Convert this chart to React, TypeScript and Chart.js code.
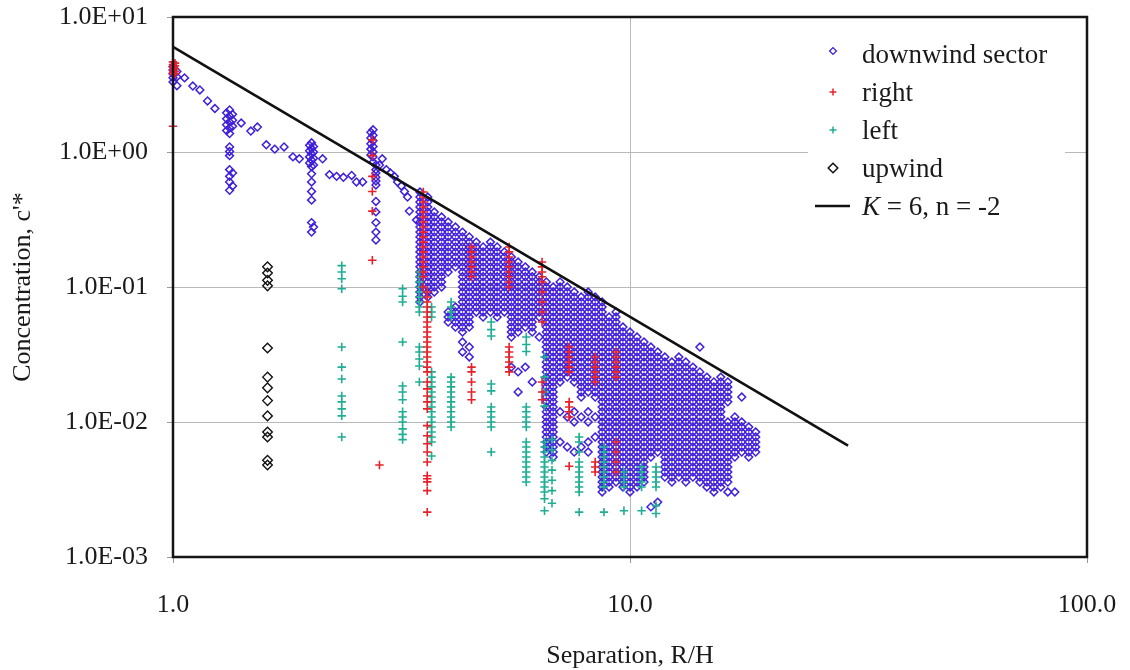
import React, { useEffect, useRef } from 'react';
import { Chart, registerables } from 'chart.js';

Chart.register(...registerables);

const FONT = "'Liberation Serif', 'Times New Roman', Times, serif";
const TEXT = '#1a1a1a';
const BLUE = '#4020DA';
const RED = '#E8202A';
const TEAL = '#1FAE94';
const BLACK = '#111111';

const xTicks = [1, 10, 100];
const xTickLabels = ['1.0', '10.0', '100.0'];
const yTicks = [0.001, 0.01, 0.1, 1, 10];
const yTickLabels = ['1.0E-03', '1.0E-02', '1.0E-01', '1.0E+00', '1.0E+01'];

const legendLabels = ['downwind sector', 'right', 'left', 'upwind', 'K = 6, n = -2'];

// downwind sector: column x positions and the c'* values read in each column
const downwindX = [
  1.0, 1.02, 1.06, 1.105, 1.145, 1.19, 1.235, 1.31, 1.33, 1.35, 1.41, 1.48, 1.53, 1.6, 1.67, 1.75, 1.83, 1.89,
  1.99, 2.01, 2.03, 2.125, 2.2, 2.28, 2.36, 2.46, 2.52, 2.6, 2.71, 2.74, 2.78, 2.83, 2.87, 2.93, 2.99, 3.05,
  3.1, 3.16, 3.21, 3.26, 3.29, 3.41,
  3.47, 3.61, 3.73, 3.87, 4.0, 4.15, 4.3, 4.45, 4.61, 4.77, 4.95, 5.12, 5.31, 5.5, 5.69, 5.9, 6.11, 6.33,
  6.56, 6.79, 7.03, 7.29, 7.55, 7.82, 8.1, 8.39, 8.69, 9.0, 9.32, 9.65, 10.0, 10.36, 10.73, 11.11, 11.5, 11.92,
  12.35, 12.79, 13.25, 13.73, 14.22, 14.73, 15.26, 15.8, 16.37, 16.96, 17.56, 18.19, 18.84,
];
const downwindC: number[][] = [
  [4.3, 4.05, 3.8, 3.55, 3.3],
  [3.95, 3.6, 3.1],
  [3.54], [3.08], [2.88], [2.39], [2.1],
  [1.95, 1.76, 1.59, 1.44],
  [2.05, 1.85, 1.67, 1.51, 1.37, 1.09, 1.01, 0.94, 0.74, 0.66, 0.6, 0.52],
  [1.9, 1.72, 1.55, 0.7, 0.56],
  [1.64], [1.43], [1.53], [1.13], [1.05], [1.09], [0.92], [0.89],
  [1.12, 1.02, 0.92, 0.83],
  [1.17, 1.06, 0.97, 0.87, 0.78, 0.69, 0.6, 0.51, 0.44, 0.3, 0.255],
  [1.1, 1.0, 0.9, 0.8, 0.278],
  [0.89], [0.68], [0.66], [0.65], [0.67], [0.6], [0.6],
  [1.4, 1.27, 1.15, 1.05, 0.95],
  [1.46, 1.33, 1.21, 1.1, 1.0, 0.92, 0.84],
  [0.8, 0.74, 0.7, 0.65, 0.61, 0.57, 0.43, 0.36, 0.3, 0.255, 0.223],
  [0.8], [0.89], [0.74], [0.7], [0.66], [0.6], [0.56], [0.51], [0.464], [0.365], [0.313],
  [0.505, 0.464, 0.426, 0.391, 0.359, 0.33, 0.303, 0.278, 0.255, 0.235, 0.215, 0.198, 0.182, 0.167, 0.153, 0.141, 0.129, 0.119, 0.109, 0.1, 0.0918, 0.0843, 0.0774],
  [0.464, 0.426, 0.391, 0.359, 0.33, 0.303, 0.278, 0.255, 0.235, 0.215, 0.198, 0.182, 0.167, 0.153, 0.141, 0.129, 0.119, 0.109, 0.1, 0.0918, 0.0843],
  [0.359, 0.33, 0.303, 0.278, 0.255, 0.235, 0.215, 0.198, 0.182, 0.167, 0.153, 0.141, 0.129, 0.119, 0.109, 0.1, 0.0918],
  [0.33, 0.303, 0.278, 0.255, 0.235, 0.215, 0.198, 0.182, 0.167, 0.153, 0.141, 0.129, 0.119, 0.109, 0.1],
  [0.303, 0.278, 0.255, 0.235, 0.215, 0.198, 0.182, 0.167, 0.153, 0.141, 0.129, 0.0653, 0.0599, 0.055],
  [0.278, 0.255, 0.235, 0.215, 0.198, 0.182, 0.167, 0.153, 0.141, 0.0711, 0.0653, 0.0599, 0.055, 0.0505],
  [0.255, 0.235, 0.215, 0.198, 0.182, 0.167, 0.153, 0.141, 0.129, 0.119, 0.109, 0.1, 0.0918, 0.0843, 0.0774, 0.0711, 0.0653, 0.0599, 0.055, 0.0505, 0.0464, 0.0391, 0.033],
  [0.235, 0.215, 0.198, 0.182, 0.167, 0.153, 0.141, 0.129, 0.119, 0.109, 0.1, 0.0918, 0.0843, 0.0774, 0.0711, 0.0653, 0.0599, 0.055, 0.0505, 0.0359, 0.0303],
  [0.215, 0.198, 0.182, 0.167, 0.153, 0.141, 0.129, 0.119, 0.109, 0.1, 0.0918, 0.0843, 0.0774, 0.0711, 0.0653],
  [0.198, 0.182, 0.167, 0.153, 0.141, 0.129, 0.119, 0.109, 0.1, 0.0918, 0.0843, 0.0774, 0.0711, 0.0653, 0.0599],
  [0.215, 0.198, 0.182, 0.167, 0.153, 0.141, 0.129, 0.119, 0.109, 0.1, 0.0918, 0.0843, 0.0774, 0.0711, 0.0653],
  [0.198, 0.182, 0.167, 0.153, 0.141, 0.129, 0.119, 0.109, 0.1, 0.0918, 0.0843, 0.0774, 0.0711, 0.0653, 0.0599],
  [0.182, 0.167, 0.153, 0.141, 0.129, 0.119, 0.109, 0.1, 0.0918, 0.0843, 0.0774, 0.0711, 0.0653],
  [0.167, 0.153, 0.141, 0.129, 0.119, 0.109, 0.1, 0.0918, 0.0843, 0.0774, 0.0711, 0.0653, 0.0599, 0.055, 0.0505, 0.0464, 0.0426, 0.0255],
  [0.153, 0.141, 0.129, 0.119, 0.109, 0.1, 0.0918, 0.0843, 0.0774, 0.0711, 0.0653, 0.0599, 0.055, 0.0505, 0.0464, 0.0235, 0.0167],
  [0.141, 0.129, 0.119, 0.109, 0.1, 0.0918, 0.0843, 0.0774, 0.0711, 0.0653, 0.0599, 0.055, 0.0505, 0.0255],
  [0.129, 0.119, 0.109, 0.1, 0.0918, 0.0843, 0.0774, 0.0711, 0.0653, 0.0599, 0.055, 0.0505, 0.0464, 0.0198],
  [0.119, 0.109, 0.1, 0.0918, 0.0843, 0.0774, 0.0711, 0.0653, 0.0599, 0.0426],
  [0.109, 0.1, 0.0918, 0.0843, 0.0774, 0.0711, 0.0653, 0.0599, 0.055, 0.0505, 0.0464, 0.0426, 0.0391, 0.0359, 0.033, 0.0303, 0.0278, 0.0255, 0.0235, 0.0215, 0.0198, 0.0182, 0.0167, 0.0153, 0.0141, 0.0129, 0.0119, 0.0109, 0.01, 0.00918, 0.00843, 0.00774, 0.00711, 0.00653, 0.00599],
  [0.1, 0.0918, 0.0843, 0.0774, 0.0711, 0.0653, 0.0599, 0.055, 0.0505, 0.0464, 0.0426, 0.0391, 0.0359, 0.033, 0.0303, 0.0278, 0.0255, 0.0235, 0.0215, 0.0198, 0.0182, 0.0167, 0.0153, 0.0141, 0.0129, 0.0119, 0.0109, 0.01, 0.00918, 0.00843, 0.00774, 0.00711, 0.00653, 0.00599, 0.0055],
  [0.109, 0.1, 0.0918, 0.0843, 0.0774, 0.0711, 0.0653, 0.0599, 0.055, 0.0505, 0.0464, 0.0426, 0.0391, 0.0359, 0.033, 0.0303, 0.0278, 0.0255, 0.0235, 0.0215, 0.0198, 0.0119, 0.00711],
  [0.1, 0.0918, 0.0843, 0.0774, 0.0711, 0.0653, 0.0599, 0.055, 0.0505, 0.0464, 0.0426, 0.0391, 0.0359, 0.033, 0.0303, 0.0278, 0.0255, 0.0235, 0.0215, 0.0109, 0.00653],
  [0.0918, 0.0843, 0.0774, 0.0711, 0.0653, 0.0599, 0.055, 0.0505, 0.0464, 0.0426, 0.0391, 0.0359, 0.033, 0.0303, 0.0278, 0.0255, 0.0235, 0.0215, 0.0198, 0.0119, 0.01, 0.00599],
  [0.0843, 0.0774, 0.0711, 0.0653, 0.0599, 0.055, 0.0505, 0.0464, 0.0426, 0.0391, 0.0359, 0.033, 0.0303, 0.0278, 0.0255, 0.0235, 0.0215, 0.0198, 0.0182, 0.0167, 0.0153, 0.0109, 0.00653],
  [0.0918, 0.0843, 0.0774, 0.0711, 0.0653, 0.0599, 0.055, 0.0505, 0.0464, 0.0426, 0.0391, 0.0359, 0.033, 0.0303, 0.0278, 0.0255, 0.0235, 0.0215, 0.0198, 0.0182, 0.0167, 0.0119, 0.01, 0.00711, 0.00599],
  [0.0843, 0.0774, 0.0711, 0.0653, 0.0599, 0.055, 0.0505, 0.0464, 0.0426, 0.0391, 0.0359, 0.033, 0.0303, 0.0278, 0.0255, 0.0235, 0.0215, 0.0198, 0.0182, 0.0167, 0.0153, 0.0109, 0.00774],
  [0.0774, 0.0711, 0.0653, 0.0599, 0.055, 0.0505, 0.0464, 0.0426, 0.0391, 0.0359, 0.033, 0.0303, 0.0278, 0.0255, 0.0235, 0.0215, 0.0198, 0.0182, 0.0167, 0.0153, 0.0141, 0.0129, 0.0119, 0.0109, 0.01, 0.00918, 0.00843, 0.00774, 0.00711, 0.00653, 0.00599, 0.0055, 0.00505, 0.00464, 0.00426, 0.00391, 0.00359, 0.0033, 0.00303],
  [0.0599, 0.055, 0.0505, 0.0464, 0.0426, 0.0391, 0.0359, 0.033, 0.0303, 0.0278, 0.0255, 0.0235, 0.0215, 0.0198, 0.0182, 0.0167, 0.0153, 0.0141, 0.0129, 0.0119, 0.0109, 0.01, 0.00918, 0.00843, 0.00774, 0.00711, 0.00653, 0.00599, 0.0055, 0.00505, 0.00464, 0.00426, 0.00391, 0.00359, 0.0033],
  [0.0653, 0.0599, 0.055, 0.0505, 0.0464, 0.0426, 0.0391, 0.0359, 0.033, 0.0303, 0.0278, 0.0255, 0.0235, 0.0215, 0.0198, 0.0182, 0.0167, 0.0153, 0.0141, 0.0129, 0.0119, 0.0109, 0.01, 0.00918, 0.00843, 0.00774, 0.00711, 0.00653, 0.00599, 0.0055, 0.00505, 0.00464, 0.00426, 0.00391, 0.00359],
  [0.0505, 0.0464, 0.0426, 0.0391, 0.0359, 0.033, 0.0303, 0.0278, 0.0255, 0.0235, 0.0215, 0.0198, 0.0182, 0.0167, 0.0153, 0.0141, 0.0129, 0.0119, 0.0109, 0.01, 0.00918, 0.00843, 0.00774, 0.00711, 0.00653, 0.00599, 0.0055, 0.00505, 0.00464, 0.00426, 0.00391, 0.00359, 0.0033],
  [0.0464, 0.0426, 0.0391, 0.0359, 0.033, 0.0303, 0.0278, 0.0255, 0.0235, 0.0215, 0.0198, 0.0182, 0.0167, 0.0153, 0.0141, 0.0129, 0.0119, 0.0109, 0.01, 0.00918, 0.00843, 0.00774, 0.00711, 0.00653, 0.00599, 0.0055, 0.00505, 0.00464, 0.00426, 0.00391, 0.00359, 0.0033, 0.00303],
  [0.0426, 0.0391, 0.0359, 0.033, 0.0303, 0.0278, 0.0255, 0.0235, 0.0215, 0.0198, 0.0182, 0.0167, 0.0153, 0.0141, 0.0129, 0.0119, 0.0109, 0.01, 0.00918, 0.00843, 0.00774, 0.00711, 0.00653, 0.00599, 0.0055, 0.00505, 0.00464, 0.00426, 0.00391, 0.00359, 0.0033],
  [0.0391, 0.0359, 0.033, 0.0303, 0.0278, 0.0255, 0.0235, 0.0215, 0.0198, 0.0182, 0.0167, 0.0153, 0.0141, 0.0129, 0.0119, 0.0109, 0.01, 0.00918, 0.00843, 0.00774, 0.00711, 0.00653, 0.00599, 0.0055, 0.00505, 0.00464, 0.00426, 0.00391, 0.00359],
  [0.0359, 0.033, 0.0303, 0.0278, 0.0255, 0.0235, 0.0215, 0.0198, 0.0182, 0.0167, 0.0153, 0.0141, 0.0129, 0.0119, 0.0109, 0.01, 0.00918, 0.00843, 0.00774, 0.00711, 0.00653, 0.00599, 0.0055, 0.00235],
  [0.033, 0.0303, 0.0278, 0.0255, 0.0235, 0.0215, 0.0198, 0.0182, 0.0167, 0.0153, 0.0141, 0.0129, 0.0119, 0.0109, 0.01, 0.00918, 0.00843, 0.00774, 0.00711, 0.00653, 0.00599, 0.00255],
  [0.0303, 0.0278, 0.0255, 0.0235, 0.0215, 0.0198, 0.0182, 0.0167, 0.0153, 0.0141, 0.0129, 0.0119, 0.0109, 0.01, 0.00918, 0.00843, 0.00774, 0.00711, 0.00653, 0.00599, 0.0055, 0.00505, 0.00464, 0.00426, 0.00391],
  [0.0278, 0.0255, 0.0235, 0.0215, 0.0198, 0.0182, 0.0167, 0.0153, 0.0141, 0.0129, 0.0119, 0.0109, 0.01, 0.00918, 0.00843, 0.00774, 0.00711, 0.00653, 0.00599, 0.0055, 0.00505, 0.00464, 0.00426, 0.00391, 0.00359],
  [0.0303, 0.0278, 0.0255, 0.0235, 0.0215, 0.0198, 0.0182, 0.0167, 0.0153, 0.0141, 0.0129, 0.0119, 0.0109, 0.01, 0.00918, 0.00843, 0.00774, 0.00711, 0.00653, 0.00599, 0.0055, 0.00505, 0.00464, 0.00426, 0.00391],
  [0.0278, 0.0255, 0.0235, 0.0215, 0.0198, 0.0182, 0.0167, 0.0153, 0.0141, 0.0129, 0.0119, 0.0109, 0.01, 0.00918, 0.00843, 0.00774, 0.00711, 0.00653, 0.00599, 0.0055, 0.00505, 0.00464, 0.00426, 0.00391, 0.00359],
  [0.0255, 0.0235, 0.0215, 0.0198, 0.0182, 0.0167, 0.0153, 0.0141, 0.0129, 0.0119, 0.0109, 0.01, 0.00918, 0.00843, 0.00774, 0.00711, 0.00653, 0.00599, 0.0055, 0.00505, 0.00464, 0.00426, 0.00391],
  [0.0359, 0.0235, 0.0215, 0.0198, 0.0182, 0.0167, 0.0153, 0.0141, 0.0129, 0.0119, 0.0109, 0.01, 0.00918, 0.00843, 0.00774, 0.00711, 0.00653, 0.00599, 0.0055, 0.00505, 0.00464, 0.00426, 0.00391, 0.00359],
  [0.0215, 0.0198, 0.0182, 0.0167, 0.0153, 0.0141, 0.0129, 0.0119, 0.0109, 0.01, 0.00918, 0.00843, 0.00774, 0.00711, 0.00653, 0.00599, 0.0055, 0.00505, 0.00464, 0.00426, 0.00391, 0.00359, 0.0033],
  [0.0198, 0.0182, 0.0167, 0.0153, 0.0141, 0.0129, 0.0119, 0.0109, 0.01, 0.00918, 0.00843, 0.00774, 0.00711, 0.00653, 0.00599, 0.0055, 0.00505, 0.00464, 0.00426, 0.00391, 0.00359, 0.0033, 0.00303],
  [0.0215, 0.0198, 0.0182, 0.0167, 0.0153, 0.0141, 0.0129, 0.0119, 0.0109, 0.01, 0.00918, 0.00843, 0.00774, 0.00711, 0.00653, 0.00599, 0.0055, 0.00505, 0.00464, 0.00426, 0.00391, 0.00359, 0.0033],
  [0.0198, 0.0182, 0.0167, 0.0153, 0.0141, 0.01, 0.00918, 0.00843, 0.00774, 0.00711, 0.00653, 0.00599, 0.0055, 0.00505, 0.00464, 0.00426, 0.00391, 0.00359, 0.00303],
  [0.0109, 0.01, 0.00918, 0.00843, 0.00774, 0.00711, 0.00653, 0.00599, 0.0055, 0.00303],
  [0.0153, 0.01, 0.00918, 0.00843, 0.00774, 0.00711, 0.00653, 0.00599],
  [0.00918, 0.00843, 0.00774, 0.00711, 0.00653, 0.00599, 0.0055],
  [0.00843, 0.00774, 0.00711, 0.00653, 0.00599],
];

// right
const rightX = [1.0, 1.01, 2.73, 2.83, 3.53, 3.6, 4.5, 5.44, 6.42, 7.36, 8.39, 9.32];
const rightC: number[][] = [
  [4.65, 4.45, 4.25, 4.05, 3.9, 3.75, 1.55],
  [4.55, 4.35, 4.15, 3.95, 3.8],
  [1.23, 0.94, 0.66, 0.51, 0.365, 0.158],
  [0.0048],
  [0.505, 0.464, 0.426, 0.391, 0.359, 0.33, 0.303, 0.278, 0.255, 0.235, 0.215, 0.198, 0.182, 0.167, 0.153, 0.141, 0.129, 0.119, 0.1],
  [0.0918, 0.0843, 0.0774, 0.0711, 0.0653, 0.0599, 0.055, 0.0505, 0.0464, 0.0426, 0.0391, 0.0359, 0.033, 0.0303, 0.0278, 0.0255, 0.0235, 0.0198, 0.0176, 0.0156, 0.0141, 0.0125, 0.0094, 0.0079, 0.0069, 0.006, 0.00505, 0.004, 0.0038, 0.0036, 0.0031, 0.00215],
  [0.198, 0.182, 0.167, 0.153, 0.141, 0.129, 0.119, 0.0255, 0.0235, 0.0198, 0.0167, 0.0146],
  [0.198, 0.182, 0.167, 0.153, 0.141, 0.129, 0.119, 0.109, 0.1, 0.0359, 0.033, 0.0303, 0.0278, 0.0255, 0.0235],
  [0.153, 0.141, 0.129, 0.119, 0.109, 0.0918, 0.0774, 0.0653, 0.055, 0.0198, 0.0167, 0.0146],
  [0.0359, 0.033, 0.0303, 0.0278, 0.0255, 0.0235, 0.0141, 0.0129, 0.0119, 0.0109, 0.0047],
  [0.0303, 0.0278, 0.0255, 0.0235, 0.0215, 0.0198, 0.00505, 0.00464, 0.00426],
  [0.033, 0.0303, 0.0278, 0.0255, 0.0235, 0.0215, 0.00711, 0.00599, 0.00505, 0.00426],
];

// left
const leftX = [2.34, 3.18, 3.46, 3.68, 4.06, 4.97, 5.93, 6.5, 6.75, 7.74, 8.77, 9.7, 10.6, 11.4];
const leftC: number[][] = [
  [0.144, 0.129, 0.115, 0.097, 0.0359, 0.0255, 0.0208, 0.0156, 0.0141, 0.0125, 0.0111, 0.00774],
  [0.097, 0.0855, 0.0774, 0.0391, 0.0185, 0.0167, 0.0146, 0.0119, 0.0109, 0.01, 0.0089, 0.0081, 0.0074],
  [0.129, 0.119, 0.109, 0.1, 0.0918, 0.0843, 0.0774, 0.0711, 0.0653, 0.0359, 0.033, 0.0293, 0.026, 0.0198],
  [0.0711, 0.0653, 0.0599, 0.0235, 0.0215, 0.0198, 0.0182, 0.0167, 0.0153, 0.0141, 0.0129, 0.0119, 0.0109, 0.01, 0.00918, 0.00843, 0.00774, 0.00711, 0.0056],
  [0.0774, 0.0711, 0.0653, 0.0599, 0.0215, 0.0198, 0.0182, 0.0167, 0.0153, 0.0141, 0.0129, 0.0119, 0.0109, 0.01, 0.00918],
  [0.055, 0.0483, 0.0433, 0.0191, 0.017, 0.0129, 0.0119, 0.0109, 0.01, 0.00918, 0.00599],
  [0.0426, 0.0375, 0.0333, 0.0129, 0.0119, 0.0109, 0.01, 0.00918, 0.00711, 0.00653, 0.00599, 0.0055, 0.00505, 0.00464, 0.00426, 0.00391, 0.00359],
  [0.0303, 0.0215, 0.0167, 0.0131, 0.00711, 0.00653, 0.00599, 0.0055, 0.00505, 0.00464, 0.00426, 0.00391, 0.00359, 0.0033, 0.00303, 0.0027, 0.0022],
  [0.0074, 0.0062, 0.0052, 0.0044, 0.0037, 0.0031, 0.0025],
  [0.00774, 0.00711, 0.00599, 0.00505, 0.00464, 0.00426, 0.00391, 0.00359, 0.0033, 0.00303, 0.00215],
  [0.00653, 0.00599, 0.0055, 0.00505, 0.00464, 0.00426, 0.00391, 0.00359, 0.0033, 0.00215],
  [0.00426, 0.00391, 0.00359, 0.0033, 0.0022],
  [0.00464, 0.00426, 0.00391, 0.00359, 0.0033, 0.0022],
  [0.00464, 0.00426, 0.00391, 0.00359, 0.0033, 0.0024, 0.0021],
];

// upwind
const upwindX = [1.61];
const upwindC: number[][] = [
  [0.141, 0.127, 0.112, 0.102, 0.0353, 0.0215, 0.0179, 0.0144, 0.0111, 0.00843, 0.00774, 0.0052, 0.0048],
];

// fitted line K = 6, n = -2
const lineX = [1, 30];
const lineC = [6, 0.00667];

function toPoints(xs: number[], cs: number[][]) {
  const pts: { x: number; y: number }[] = [];
  xs.forEach((x, i) => cs[i].forEach((y) => pts.push({ x, y })));
  return pts;
}

function diamond(ctx: CanvasRenderingContext2D, x: number, y: number, r: number) {
  ctx.beginPath();
  ctx.moveTo(x - r, y);
  ctx.lineTo(x, y - r);
  ctx.lineTo(x + r, y);
  ctx.lineTo(x, y + r);
  ctx.closePath();
  ctx.stroke();
}

function cross(ctx: CanvasRenderingContext2D, x: number, y: number, r: number) {
  ctx.beginPath();
  ctx.moveTo(x - r, y);
  ctx.lineTo(x + r, y);
  ctx.moveTo(x, y - r);
  ctx.lineTo(x, y + r);
  ctx.stroke();
}

const legendPlugin = {
  id: 'boxLegend',
  beforeDatasetsDraw(chart: any) {
    const { ctx, chartArea: a } = chart;
    ctx.save();
    ctx.fillStyle = '#ffffff';
    ctx.fillRect(a.right - 279, a.top + 14, 257, 208);
    ctx.restore();
  },
  afterDraw(chart: any) {
    const { ctx, chartArea: a } = chart;
    const mx = a.right - 254;
    const tx = a.right - 225;
    const markY = [34, 75, 113, 151, 189].map((v) => a.top + v);
    const baseY = [46, 84, 122, 160, 198].map((v) => a.top + v);
    ctx.save();
    ctx.lineWidth = 1.3;
    ctx.strokeStyle = BLUE;
    diamond(ctx, mx, markY[0], 3.4);
    ctx.lineWidth = 1.5;
    ctx.strokeStyle = RED;
    cross(ctx, mx, markY[1], 3.5);
    ctx.strokeStyle = TEAL;
    cross(ctx, mx, markY[2], 3.5);
    ctx.strokeStyle = BLACK;
    ctx.lineWidth = 1.5;
    diamond(ctx, mx, markY[3], 4.8);
    ctx.lineWidth = 2.6;
    ctx.beginPath();
    ctx.moveTo(mx - 18, markY[4]);
    ctx.lineTo(mx + 17, markY[4]);
    ctx.stroke();

    ctx.fillStyle = TEXT;
    ctx.textAlign = 'left';
    ctx.textBaseline = 'alphabetic';
    ctx.font = `27px ${FONT}`;
    for (let i = 0; i < 4; i++) ctx.fillText(legendLabels[i], tx, baseY[i]);
    const last = legendLabels[4];
    ctx.font = `italic 27px ${FONT}`;
    ctx.fillText(last.slice(0, 1), tx, baseY[4]);
    const w = ctx.measureText(last.slice(0, 1)).width;
    ctx.font = `27px ${FONT}`;
    ctx.fillText(last.slice(1), tx + w, baseY[4]);

    ctx.strokeStyle = '#151515';
    ctx.lineWidth = 2.5;
    ctx.strokeRect(a.left, a.top, a.right - a.left, a.bottom - a.top);
    ctx.restore();
  },
};

export default function App() {
  const canvasRef = useRef<HTMLCanvasElement | null>(null);

  useEffect(() => {
    const canvas = canvasRef.current;
    if (!canvas) return;
    const tickFont = { family: FONT, size: 26 };
    const chart = new Chart(canvas, {
      type: 'scatter',
      data: {
        datasets: [
          {
            type: 'line',
            label: legendLabels[4],
            data: lineX.map((x, i) => ({ x, y: lineC[i] })),
            borderColor: BLACK,
            borderWidth: 2.6,
            pointRadius: 0,
            fill: false,
            order: 0,
            clip: false,
          } as any,
          {
            label: legendLabels[3],
            data: toPoints(upwindX, upwindC),
            pointStyle: 'rectRot',
            pointRadius: 4.8,
            pointBorderWidth: 1.4,
            borderColor: BLACK,
            pointBorderColor: BLACK,
            backgroundColor: 'rgba(0,0,0,0)',
            pointBackgroundColor: 'rgba(0,0,0,0)',
            order: 1,
            clip: false,
          },
          {
            label: legendLabels[1],
            data: toPoints(rightX, rightC),
            pointStyle: 'cross',
            pointRadius: 4.2,
            pointBorderWidth: 1.6,
            borderColor: RED,
            pointBorderColor: RED,
            order: 2,
            clip: false,
          },
          {
            label: legendLabels[2],
            data: toPoints(leftX, leftC),
            pointStyle: 'cross',
            pointRadius: 4.2,
            pointBorderWidth: 1.6,
            borderColor: TEAL,
            pointBorderColor: TEAL,
            order: 3,
            clip: false,
          },
          {
            label: legendLabels[0],
            data: toPoints(downwindX, downwindC),
            pointStyle: 'rectRot',
            pointRadius: 3.9,
            pointBorderWidth: 1.5,
            borderColor: BLUE,
            pointBorderColor: BLUE,
            backgroundColor: 'rgba(0,0,0,0)',
            pointBackgroundColor: 'rgba(0,0,0,0)',
            order: 4,
            clip: false,
          },
        ],
      },
      options: {
        responsive: false,
        animation: false,
        devicePixelRatio: 1,
        events: [],
        layout: { padding: { left: 0, top: 17, right: 43, bottom: 0 } },
        plugins: { legend: { display: false }, tooltip: { enabled: false } },
        scales: {
          x: {
            type: 'logarithmic',
            min: 1,
            max: 100,
            afterBuildTicks: (s: any) => {
              s.ticks = xTicks.map((v) => ({ value: v }));
            },
            afterFit: (s: any) => {
              s.height = 113;
              s.paddingLeft = 0;
              s.paddingRight = 0;
            },
            ticks: {
              callback: (_v: any, i: number) => xTickLabels[i],
              font: tickFont,
              color: TEXT,
              padding: 27,
              maxRotation: 0,
              autoSkip: false,
            },
            grid: { color: '#b9b9b9', lineWidth: 1, tickLength: 6, tickColor: '#999999' },
            border: { display: false },
            title: {
              display: true,
              text: 'Separation, R/H',
              font: { family: FONT, size: 26, lineHeight: 1 },
              color: TEXT,
              padding: { top: 0, bottom: 1 },
            },
          },
          y: {
            type: 'logarithmic',
            min: 0.001,
            max: 10,
            afterBuildTicks: (s: any) => {
              s.ticks = yTicks.map((v) => ({ value: v }));
            },
            afterFit: (s: any) => {
              s.width = 173;
              s.paddingTop = 0;
              s.paddingBottom = 0;
            },
            ticks: {
              callback: (_v: any, i: number) => yTickLabels[i],
              font: tickFont,
              color: TEXT,
              padding: 19,
              autoSkip: false,
            },
            grid: { color: '#b9b9b9', lineWidth: 1, tickLength: 6, tickColor: '#999999' },
            border: { display: false },
            title: {
              display: true,
              text: "Concentration, c'*",
              font: { family: FONT, size: 26, lineHeight: 1 },
              color: TEXT,
              padding: { top: 10, bottom: 0 },
            },
          },
        },
      } as any,
      plugins: [legendPlugin],
    });
    return () => chart.destroy();
  }, []);

  return (
    <div style={{ position: 'fixed', left: 0, top: 0, width: 1130, height: 670, background: '#fff' }}>
      <canvas ref={canvasRef} width={1130} height={670} style={{ display: 'block' }} />
    </div>
  );
}
